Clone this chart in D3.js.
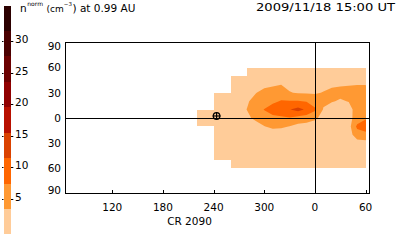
<!DOCTYPE html>
<html><head><meta charset="utf-8">
<script src="https://cdn.jsdelivr.net/npm/d3@7"></script>
<style>
body{margin:0;background:#fff}
svg{display:block}
text{font-family:"DejaVu Sans",sans-serif;fill:#000}
</style>
</head><body>
<svg id="c" width="400" height="240"></svg>
<script>
// ---- data ----
const lons = [220,230,240,250,260,270,280,290,300,310,320,330,340,350,360,370,380,390,400,410,420];
const lats = [60,50,40,30,20,10,0,-10,-20,-30,-40,-50,-60];
const density = [
 [1.2,1.2,1.3,1.3,1.4,1.5,1.6,1.7,1.8,1.8,1.9,1.9,1.9,1.9,1.9,1.9,2.0,2.0,2.0,2.0,2.0],
 [1.4,1.5,1.6,1.7,1.9,2.0,2.1,2.2,2.4,2.5,2.6,2.5,2.4,2.3,2.3,2.4,2.5,2.6,2.7,2.7,2.7],
 [1.6,1.7,1.9,2.0,2.1,2.2,2.3,2.6,3.0,3.3,3.5,3.1,2.9,2.8,2.9,3.0,3.3,3.45,3.5,3.5,3.5],
 [1.8,1.9,2.1,2.3,2.4,2.5,2.7,3.5,4.3,4.5,5.2,3.7,3.4,3.3,3.3,3.7,4.0,4.0,4.0,4.5,4.5],
 [2.0,2.1,2.3,2.5,2.6,2.8,3.3,4.6,5.5,6.8,7.9,7.8,7.8,7.4,5.5,4.3,3.7,3.4,3.65,4.5,5.0],
 [2.1,2.2,2.4,2.6,2.6,2.5,3.7,5.5,7.8,9.5,10.5,11.5,13.0,11.0,8.3,3.3,2.8,2.8,2.8,4.5,5.0],
 [2.2,2.3,2.4,2.5,2.5,2.6,3.0,4.3,5.5,6.5,6.9,7.4,6.1,5.6,4.2,2.4,2.4,2.5,2.5,5.0,7.2],
 [2.1,2.2,2.3,2.3,2.3,2.3,2.3,2.3,3.5,4.1,4.0,3.5,2.5,2.0,2.0,2.1,2.1,2.1,2.0,8.5,9.5],
 [2.0,2.0,2.1,2.1,2.1,2.1,2.1,2.2,2.2,2.2,2.2,2.2,2.2,2.1,2.0,2.0,2.0,2.0,2.0,5.5,6.5],
 [1.9,1.9,2.0,2.0,2.0,2.0,2.0,2.0,2.0,2.0,2.0,2.0,2.0,2.0,2.0,2.0,2.0,2.0,2.0,2.0,2.0],
 [1.8,1.8,1.9,1.9,1.9,1.9,1.9,1.9,1.9,1.9,1.9,1.9,1.9,1.9,1.9,1.9,1.9,1.9,1.9,1.9,1.9],
 [1.7,1.7,1.8,1.8,1.8,1.8,1.8,1.8,1.8,1.8,1.8,1.8,1.8,1.8,1.8,1.8,1.8,1.8,1.8,1.8,1.8],
 [1.6,1.6,1.7,1.7,1.7,1.7,1.7,1.7,1.7,1.7,1.7,1.7,1.7,1.7,1.7,1.7,1.7,1.7,1.7,1.7,1.7]
];
// data coverage blocks (longitude / latitude extents)
const coverLonW = [220,240,260,280];
const coverLonE = [240,260,280,420];
const coverLatS = [-10,-50,-60,-60];
const coverLatN = [10,30,50,60];

const levels = [-0.44,3.58,7.61,11.64,15.67,19.69,23.72,27.75,31.78,35.8];
const levelColors = ["#FFCC99","#FF9933","#FF6600","#DA4200","#B81000","#900000","#6B0000","#4A0000","#2B0000"];
const cbTicks = [5,10,15,20,25,30];

const xTicks = [120,180,240,300,360,420];
const xTickLabels = ["120","180","240","300","0","60"];
const yTicks = [90,60,30,0,-30,-60,-90];
const yTickLabels = ["90","60","30","0","30","60","90"];
const earthLon = 360;
const obsLon = 243.5, obsLat = 2.4;

const titleLeft = ["n","norm","(cm","\u22123",") at 0.99 AU"];
const titleRight = "2009/11/18 15:00 UT";
const xAxisTitle = "CR 2090";

// ---- drawing ----
const svg = d3.select("#c");
const x = d3.scaleLinear([64.6, 424.6], [65.5, 369.5]);
const y = d3.scaleLinear([-90, 90], [193.5, 42.5]);
const px = v => Math.round(v) + 0.5;

const defs = svg.append("defs");
const clip = defs.append("clipPath").attr("id","cov");
coverLonW.forEach((w,i)=>{
  const x0 = Math.round(x(w)), x1 = Math.round(x(coverLonE[i]));
  const y0 = Math.round(y(coverLatN[i])), y1 = Math.round(y(coverLatS[i]));
  clip.append("rect").attr("x",x0).attr("y",y0).attr("width",x1-x0).attr("height",y1-y0);
});

const n = lons.length, m = lats.length;
const dLon = lons[1]-lons[0], dLat = lats[1]-lats[0];
const toLon = c => lons[0] + (c - 0.5) * dLon;
const toLat = r => lats[0] + (r - 0.5) * dLat;
const path = d3.geoPath(d3.geoTransform({
  point(a, b){ this.stream.point(x(toLon(a)), y(toLat(b))); }
}));
const contours = d3.contours().size([n, m]).thresholds(levels.slice(0, levelColors.length))(density.flat());

svg.append("g").attr("clip-path","url(#cov)")
  .selectAll("path").data(contours).join("path")
  .attr("d", path)
  .attr("fill", (d,i)=>levelColors[i])
  .attr("stroke","none");

// axes lines
const g = svg.append("g").attr("stroke","#000").attr("stroke-width",1).attr("shape-rendering","crispEdges").attr("fill","none");
g.append("line").attr("x1",x.range()[0]).attr("x2",x.range()[1]).attr("y1",px(y(0))).attr("y2",px(y(0)));
g.append("line").attr("x1",px(x(earthLon))).attr("x2",px(x(earthLon))).attr("y1",y.range()[1]).attr("y2",y.range()[0]);
g.append("rect").attr("x",x.range()[0]).attr("y",y.range()[1]).attr("width",x.range()[1]-x.range()[0]).attr("height",y.range()[0]-y.range()[1]);
xTicks.forEach(t=>{
  g.append("line").attr("x1",px(x(t))).attr("x2",px(x(t))).attr("y1",y.range()[0]).attr("y2",y.range()[0]-3.5);
});

// marker
const mk = svg.append("g").attr("transform",`translate(${x(obsLon)},${y(obsLat)})`).attr("stroke","#000").attr("stroke-width",1.2).attr("fill","none");
mk.append("circle").attr("r",3.3);
mk.append("line").attr("x1",-4).attr("x2",4);
mk.append("line").attr("y1",-4).attr("y2",4);

// tick labels
const fs = 10.5;
xTicks.forEach((t,i)=>{
  svg.append("text").attr("x",x(t)).attr("y",211).attr("text-anchor","middle").attr("font-size",fs).text(xTickLabels[i]);
});
svg.append("text").attr("x",189.5).attr("y",225).attr("text-anchor","middle").attr("font-size",fs).text(xAxisTitle);
yTicks.forEach((t,i)=>{
  const cy = Math.max(46.5, Math.min(190.5, y(t)));
  svg.append("text").attr("x",61).attr("y",cy+3.7).attr("text-anchor","end").attr("font-size",fs).text(yTickLabels[i]);
});

// colorbar
const cb = d3.scaleLinear([levels[0], levels[levels.length-1]], [234.3, 5.7]);
levelColors.forEach((c,i)=>{
  svg.append("rect").attr("x",4).attr("width",7)
    .attr("y",cb(levels[i+1])).attr("height",cb(levels[i])-cb(levels[i+1]))
    .attr("fill",c).attr("shape-rendering","crispEdges");
});
cbTicks.forEach(t=>{
  const ty = Math.round(cb(t));
  svg.append("rect").attr("x",2).attr("y",ty-1).attr("width",1.5).attr("height",1).attr("fill","#000");
  svg.append("rect").attr("x",11).attr("y",ty-1).attr("width",2.3).attr("height",1).attr("fill","#000");
  svg.append("text").attr("x",15).attr("y",ty+0.5).attr("font-size",fs).text(t);
});

// titles
const tf = '"Liberation Sans",Arial,sans-serif';
svg.append("text").attr("x",20).attr("y",11.5).attr("font-size",fs).text(titleLeft[0]);
svg.append("text").attr("x",27.3).attr("y",5.5).attr("font-size",6).attr("font-family",tf).text(titleLeft[1]);
svg.append("text").attr("x",46.5).attr("y",11.5).attr("font-size",9).attr("font-family",tf).text(titleLeft[2]);
svg.append("text").attr("x",63.8).attr("y",6).attr("font-size",5.5).attr("font-family",tf).text(titleLeft[3]);
svg.append("text").attr("x",72.5).attr("y",11.5).attr("font-size",fs).attr("font-family",tf).text(titleLeft[4]);
svg.append("text").attr("x",256).attr("y",11).attr("font-size",fs).attr("textLength",139).attr("lengthAdjust","spacingAndGlyphs").text(titleRight);
</script>
</body></html>
